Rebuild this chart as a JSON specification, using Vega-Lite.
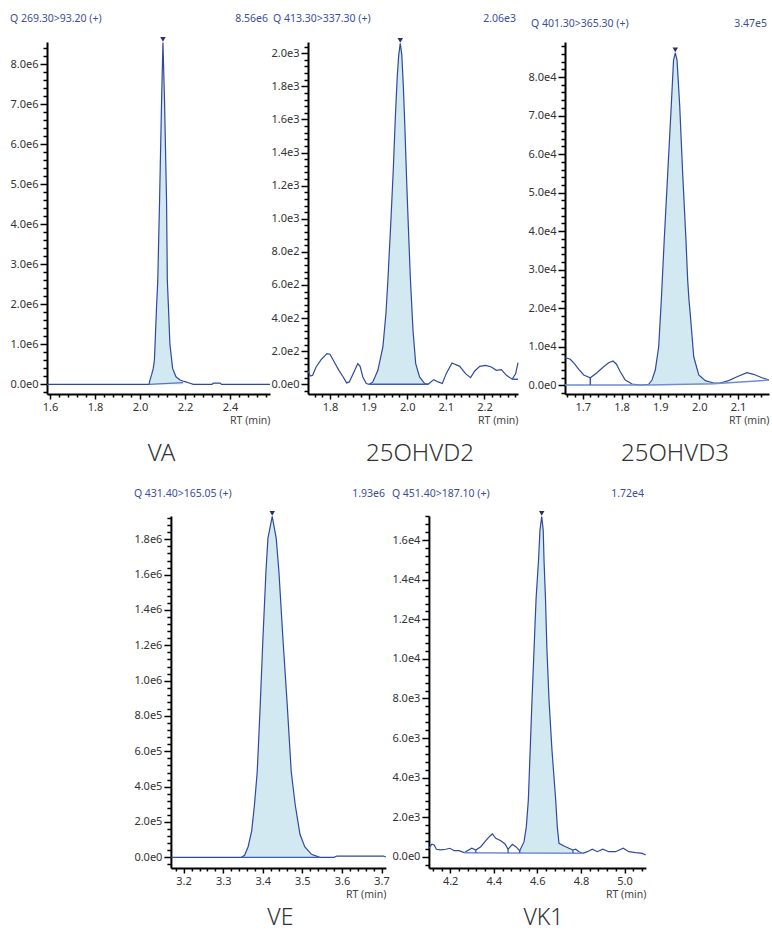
{
  "$schema": "https://vega.github.io/schema/vega-lite/v6.json",
  "background": "white",
  "padding": {"left": 9, "top": 14, "right": 0, "bottom": 0},
  "config": {
    "view": {"stroke": null},
    "axis": {"domainColor": "#000", "domainWidth": 2, "tickColor": "#000", "tickWidth": 1.5, "labelFont": "Noto Sans", "labelFontSize": 11, "labelColor": "#333", "titleFont": "Noto Sans", "titleFontSize": 10.5, "titleFontWeight": "normal", "titleColor": "#444", "grid": false, "labelPadding": 2, "labelOverlap": false, "labelBound": false, "tickCount": 500},
    "axisX": {"titleAnchor": "end", "titlePadding": 3, "labelFlush": false},
    "text": {"font": "Noto Sans"},
    "title": {"font": "Noto Sans"}
  },
  "datasets": {
    "curve": [
      {"p":"VA","rt":1.5867,"i":0},{"p":"VA","rt":1.7,"i":0},{"p":"VA","rt":1.9,"i":0},{"p":"VA","rt":2.0,"i":0},{"p":"VA","rt":2.04,"i":0},{"p":"VA","rt":2.044,"i":100000},{"p":"VA","rt":2.052,"i":250000},{"p":"VA","rt":2.059,"i":400000},{"p":"VA","rt":2.064,"i":600000},{"p":"VA","rt":2.067,"i":1000000},{"p":"VA","rt":2.074,"i":2000000},{"p":"VA","rt":2.079,"i":2600000},{"p":"VA","rt":2.087,"i":4600000},{"p":"VA","rt":2.096,"i":7100000},{"p":"VA","rt":2.102,"i":8550000},{"p":"VA","rt":2.109,"i":7100000},{"p":"VA","rt":2.118,"i":4600000},{"p":"VA","rt":2.1215,"i":2600000},{"p":"VA","rt":2.126,"i":2000000},{"p":"VA","rt":2.133,"i":1000000},{"p":"VA","rt":2.145,"i":400000},{"p":"VA","rt":2.16,"i":190000},{"p":"VA","rt":2.178,"i":110000},{"p":"VA","rt":2.19,"i":85000},{"p":"VA","rt":2.2,"i":70000},{"p":"VA","rt":2.222,"i":30000},{"p":"VA","rt":2.237,"i":0},{"p":"VA","rt":2.32,"i":0},{"p":"VA","rt":2.326,"i":30000},{"p":"VA","rt":2.356,"i":30000},{"p":"VA","rt":2.363,"i":0},{"p":"VA","rt":2.5778,"i":0},
      {"p":"D2","rt":1.743,"i":80},{"p":"D2","rt":1.749,"i":50},{"p":"D2","rt":1.755,"i":54},{"p":"D2","rt":1.764,"i":104},{"p":"D2","rt":1.777,"i":149},{"p":"D2","rt":1.792,"i":185},{"p":"D2","rt":1.8,"i":181},{"p":"D2","rt":1.811,"i":134},{"p":"D2","rt":1.823,"i":84},{"p":"D2","rt":1.833,"i":48},{"p":"D2","rt":1.843,"i":8},{"p":"D2","rt":1.85,"i":14},{"p":"D2","rt":1.862,"i":74},{"p":"D2","rt":1.872,"i":125},{"p":"D2","rt":1.878,"i":108},{"p":"D2","rt":1.885,"i":44},{"p":"D2","rt":1.894,"i":4},{"p":"D2","rt":1.902,"i":0},{"p":"D2","rt":1.911,"i":14},{"p":"D2","rt":1.924,"i":84},{"p":"D2","rt":1.937,"i":225},{"p":"D2","rt":1.945,"i":430},{"p":"D2","rt":1.95,"i":630},{"p":"D2","rt":1.958,"i":1000},{"p":"D2","rt":1.964,"i":1300},{"p":"D2","rt":1.969,"i":1600},{"p":"D2","rt":1.974,"i":1850},{"p":"D2","rt":1.978,"i":1990},{"p":"D2","rt":1.982,"i":2060},{"p":"D2","rt":1.986,"i":1990},{"p":"D2","rt":1.99,"i":1800},{"p":"D2","rt":1.994,"i":1550},{"p":"D2","rt":1.999,"i":1200},{"p":"D2","rt":2.003,"i":950},{"p":"D2","rt":2.008,"i":650},{"p":"D2","rt":2.015,"i":325},{"p":"D2","rt":2.022,"i":125},{"p":"D2","rt":2.032,"i":44},{"p":"D2","rt":2.045,"i":4},{"p":"D2","rt":2.054,"i":0},{"p":"D2","rt":2.069,"i":28},{"p":"D2","rt":2.08,"i":14},{"p":"D2","rt":2.091,"i":4},{"p":"D2","rt":2.101,"i":64},{"p":"D2","rt":2.116,"i":128},{"p":"D2","rt":2.136,"i":108},{"p":"D2","rt":2.151,"i":64},{"p":"D2","rt":2.164,"i":40},{"p":"D2","rt":2.175,"i":80},{"p":"D2","rt":2.188,"i":108},{"p":"D2","rt":2.203,"i":114},{"p":"D2","rt":2.218,"i":104},{"p":"D2","rt":2.231,"i":84},{"p":"D2","rt":2.244,"i":88},{"p":"D2","rt":2.257,"i":54},{"p":"D2","rt":2.272,"i":30},{"p":"D2","rt":2.281,"i":64},{"p":"D2","rt":2.287,"i":130},
      {"p":"D3","rt":1.6544,"i":7200},{"p":"D3","rt":1.668,"i":6750},{"p":"D3","rt":1.678,"i":5700},{"p":"D3","rt":1.69,"i":4150},{"p":"D3","rt":1.7026,"i":2670},{"p":"D3","rt":1.7196,"i":1970},{"p":"D3","rt":1.7368,"i":3270},{"p":"D3","rt":1.7523,"i":4670},{"p":"D3","rt":1.767,"i":5860},{"p":"D3","rt":1.778,"i":6300},{"p":"D3","rt":1.7866,"i":5530},{"p":"D3","rt":1.7968,"i":3530},{"p":"D3","rt":1.8097,"i":1370},{"p":"D3","rt":1.827,"i":340},{"p":"D3","rt":1.848,"i":80},{"p":"D3","rt":1.87,"i":260},{"p":"D3","rt":1.8785,"i":1370},{"p":"D3","rt":1.887,"i":3970},{"p":"D3","rt":1.8957,"i":10000},{"p":"D3","rt":1.9025,"i":22100},{"p":"D3","rt":1.91,"i":37700},{"p":"D3","rt":1.919,"i":55000},{"p":"D3","rt":1.928,"i":72300},{"p":"D3","rt":1.934,"i":84400},{"p":"D3","rt":1.9385,"i":86300},{"p":"D3","rt":1.943,"i":84400},{"p":"D3","rt":1.95,"i":72300},{"p":"D3","rt":1.9575,"i":55000},{"p":"D3","rt":1.966,"i":37700},{"p":"D3","rt":1.9704,"i":27300},{"p":"D3","rt":1.9738,"i":22100},{"p":"D3","rt":1.977,"i":18600},{"p":"D3","rt":1.986,"i":7400},{"p":"D3","rt":1.999,"i":2670},{"p":"D3","rt":2.016,"i":1200},{"p":"D3","rt":2.037,"i":600},{"p":"D3","rt":2.054,"i":600},{"p":"D3","rt":2.076,"i":1200},{"p":"D3","rt":2.0975,"i":2200},{"p":"D3","rt":2.123,"i":3300},{"p":"D3","rt":2.14,"i":2850},{"p":"D3","rt":2.162,"i":1970},{"p":"D3","rt":2.1765,"i":1500},{"p":"D3","rt":2.1799,"i":1450},
      {"p":"VE","rt":3.168,"i":0},{"p":"VE","rt":3.25,"i":0},{"p":"VE","rt":3.346,"i":0},{"p":"VE","rt":3.354,"i":11000},{"p":"VE","rt":3.363,"i":60000},{"p":"VE","rt":3.372,"i":150000},{"p":"VE","rt":3.379,"i":296000},{"p":"VE","rt":3.386,"i":484000},{"p":"VE","rt":3.3936,"i":862000},{"p":"VE","rt":3.4004,"i":1239000},{"p":"VE","rt":3.408,"i":1616000},{"p":"VE","rt":3.413,"i":1805000},{"p":"VE","rt":3.4239,"i":1930000},{"p":"VE","rt":3.434,"i":1805000},{"p":"VE","rt":3.4408,"i":1616000},{"p":"VE","rt":3.4509,"i":1239000},{"p":"VE","rt":3.4618,"i":862000},{"p":"VE","rt":3.4719,"i":484000},{"p":"VE","rt":3.482,"i":296000},{"p":"VE","rt":3.494,"i":130000},{"p":"VE","rt":3.506,"i":60000},{"p":"VE","rt":3.523,"i":17000},{"p":"VE","rt":3.544,"i":0},{"p":"VE","rt":3.58,"i":0},{"p":"VE","rt":3.587,"i":7000},{"p":"VE","rt":3.705,"i":7000},{"p":"VE","rt":3.711,"i":2000},
      {"p":"K1","rt":4.1026,"i":425},{"p":"K1","rt":4.116,"i":628},{"p":"K1","rt":4.1267,"i":592},{"p":"K1","rt":4.137,"i":375},{"p":"K1","rt":4.157,"i":340},{"p":"K1","rt":4.18,"i":375},{"p":"K1","rt":4.1986,"i":425},{"p":"K1","rt":4.2183,"i":304},{"p":"K1","rt":4.241,"i":304},{"p":"K1","rt":4.264,"i":203},{"p":"K1","rt":4.279,"i":304},{"p":"K1","rt":4.2994,"i":425},{"p":"K1","rt":4.3177,"i":340},{"p":"K1","rt":4.3406,"i":506},{"p":"K1","rt":4.3635,"i":810},{"p":"K1","rt":4.383,"i":1048},{"p":"K1","rt":4.3938,"i":1150},{"p":"K1","rt":4.4094,"i":932},{"p":"K1","rt":4.4322,"i":810},{"p":"K1","rt":4.452,"i":643},{"p":"K1","rt":4.4657,"i":375},{"p":"K1","rt":4.4854,"i":628},{"p":"K1","rt":4.501,"i":506},{"p":"K1","rt":4.5193,"i":304},{"p":"K1","rt":4.539,"i":760},{"p":"K1","rt":4.5495,"i":1519},{"p":"K1","rt":4.5587,"i":2870},{"p":"K1","rt":4.5756,"i":7930},{"p":"K1","rt":4.5848,"i":10470},{"p":"K1","rt":4.594,"i":13000},{"p":"K1","rt":4.6054,"i":15000},{"p":"K1","rt":4.612,"i":16500},{"p":"K1","rt":4.62,"i":17200},{"p":"K1","rt":4.627,"i":16500},{"p":"K1","rt":4.6306,"i":15000},{"p":"K1","rt":4.6375,"i":13000},{"p":"K1","rt":4.644,"i":10470},{"p":"K1","rt":4.6535,"i":7930},{"p":"K1","rt":4.667,"i":5400},{"p":"K1","rt":4.6842,"i":2870},{"p":"K1","rt":4.6915,"i":1519},{"p":"K1","rt":4.6993,"i":676},{"p":"K1","rt":4.7222,"i":540},{"p":"K1","rt":4.745,"i":425},{"p":"K1","rt":4.7634,"i":340},{"p":"K1","rt":4.7758,"i":375},{"p":"K1","rt":4.791,"i":253},{"p":"K1","rt":4.8093,"i":169},{"p":"K1","rt":4.829,"i":253},{"p":"K1","rt":4.852,"i":375},{"p":"K1","rt":4.8748,"i":253},{"p":"K1","rt":4.9,"i":375},{"p":"K1","rt":4.928,"i":253},{"p":"K1","rt":4.959,"i":253},{"p":"K1","rt":4.9939,"i":425},{"p":"K1","rt":5.02,"i":253},{"p":"K1","rt":5.0507,"i":203},{"p":"K1","rt":5.0813,"i":169},{"p":"K1","rt":5.097,"i":84}
    ],
    "base": [
      {"p":"VA","s":1,"rt":2.04,"i":0},{"p":"VA","s":1,"rt":2.192,"i":45000},
      {"p":"D2","s":1,"rt":1.902,"i":0},{"p":"D2","s":1,"rt":2.054,"i":0},{"p":"D2","s":2,"rt":2.272,"i":30},{"p":"D2","s":2,"rt":2.287,"i":30},
      {"p":"D3","s":1,"rt":1.6544,"i":100},{"p":"D3","s":1,"rt":1.87,"i":100},{"p":"D3","s":1,"rt":2.037,"i":420},{"p":"D3","s":1,"rt":2.1799,"i":1350},
      {"p":"VE","s":1,"rt":3.346,"i":0},{"p":"VE","s":1,"rt":3.544,"i":0},
      {"p":"K1","s":1,"rt":4.264,"i":203},{"p":"K1","s":1,"rt":4.8093,"i":169}
    ],
    "drop": [
      {"p":"D3","rt":1.7196,"i":1970,"b":100},
      {"p":"K1","rt":4.3177,"i":340,"b":199},{"p":"K1","rt":4.4657,"i":375,"b":189},{"p":"K1","rt":4.5193,"i":304,"b":186},{"p":"K1","rt":4.7634,"i":340,"b":175}
    ],
    "apex": [
      {"p":"VA","rt":2.102,"i":8550000},{"p":"D2","rt":1.982,"i":2060},{"p":"D3","rt":1.9385,"i":86300},{"p":"VE","rt":3.4239,"i":1930000},{"p":"K1","rt":4.62,"i":17200}
    ],
    "meta": [
      {"p":"VA","q":"Q 269.30>93.20 (+)","m":"8.56e6"},
      {"p":"D2","q":"Q 413.30>337.30 (+)","m":"2.06e3"},
      {"p":"D3","q":"Q 401.30>365.30 (+)","m":"3.47e5"},
      {"p":"VE","q":"Q 431.40>165.05 (+)","m":"1.93e6"},
      {"p":"K1","q":"Q 451.40>187.10 (+)","m":"1.72e4"}
    ]
  },
  "center": true,
  "spacing": 23,
  "vconcat": [
    {
      "spacing": -3,
      "hconcat": [
        {
          "width": 223, "height": 352,
          "title": {"text": "VA", "orient": "bottom", "anchor": "middle", "frame": "group", "fontSize": 24, "fontWeight": 300, "color": "#333", "offset": 16, "dx": 3},
          "layer": [
            {"data": {"name": "curve"}, "transform": [{"filter": "datum.p === 'VA' && datum.rt >= 2.04 && datum.rt <= 2.192"}],
             "mark": {"type": "area", "color": "#d3e9f1"},
             "encoding": {
               "x": {"field": "rt", "type": "quantitative", "scale": {"domain": [1.5867, 2.5778], "nice": false, "zero": false},
                     "axis": {"title": "RT (min)", "values": [1.6,1.64,1.68,1.72,1.76,1.8,1.84,1.88,1.92,1.96,2.0,2.04,2.08,2.12,2.16,2.2,2.24,2.28,2.32,2.36,2.4,2.44,2.48,2.52,2.56],
                              "labelExpr": "abs(datum.value*5 - round(datum.value*5)) < 1e-6 ? format(datum.value, '.1f') : ''",
                              "tickSize": {"condition": {"test": "abs(datum.value*5 - round(datum.value*5)) < 1e-6", "value": 5}, "value": 3}}},
               "y": {"field": "i", "type": "quantitative", "scale": {"domain": [-240000, 8560000], "nice": false, "zero": false},
                     "axis": {"title": null, "minExtent": 37, "maxExtent": 37,
                              "values": [-200000,0,200000,400000,600000,800000,1000000,1200000,1400000,1600000,1800000,2000000,2200000,2400000,2600000,2800000,3000000,3200000,3400000,3600000,3800000,4000000,4200000,4400000,4600000,4800000,5000000,5200000,5400000,5600000,5800000,6000000,6200000,6400000,6600000,6800000,7000000,7200000,7400000,7600000,7800000,8000000,8200000,8400000],
                              "labelExpr": "datum.value % 1000000 === 0 ? replace(format(datum.value, '.1e'), '+', '') : ''",
                              "tickSize": {"condition": {"test": "datum.value % 1000000 === 0", "value": 7}, "value": 4}}},
               "y2": {"datum": 0}
             }},
            {"data": {"name": "curve"}, "transform": [{"filter": "datum.p === 'VA'"}], "mark": {"type": "line", "color": "#2f4a9c", "strokeWidth": 1.2},
             "encoding": {"x": {"field": "rt", "type": "quantitative"}, "y": {"field": "i", "type": "quantitative"}}},
            {"data": {"name": "base"}, "transform": [{"filter": "datum.p === 'VA'"}], "mark": {"type": "line", "color": "#5675c4", "strokeWidth": 1.3},
             "encoding": {"x": {"field": "rt", "type": "quantitative"}, "y": {"field": "i", "type": "quantitative"}, "detail": {"field": "s"}}},
            {"data": {"name": "apex"}, "transform": [{"filter": "datum.p === 'VA'"}], "mark": {"type": "point", "shape": "triangle-down", "filled": true, "color": "#2b2f66", "size": 30, "opacity": 1, "yOffset": -3},
             "encoding": {"x": {"field": "rt", "type": "quantitative"}, "y": {"field": "i", "type": "quantitative"}}},
            {"data": {"name": "meta"}, "transform": [{"filter": "datum.p === 'VA'"}], "mark": {"type": "text", "align": "left", "baseline": "middle", "dx": -37, "dy": -23, "fontSize": 10.5, "color": "#3b4e9a"},
             "encoding": {"x": {"datum": 1.5867, "type": "quantitative"}, "y": {"datum": 8560000, "type": "quantitative"}, "text": {"field": "q"}}},
            {"data": {"name": "meta"}, "transform": [{"filter": "datum.p === 'VA'"}], "mark": {"type": "text", "align": "right", "baseline": "middle", "dx": -2, "dy": -23, "fontSize": 10.5, "color": "#3b4e9a"},
             "encoding": {"x": {"datum": 2.5778, "type": "quantitative"}, "y": {"datum": 8560000, "type": "quantitative"}, "text": {"field": "m"}}}
          ]
        },
        {
          "width": 210, "height": 352,
          "title": {"text": "25OHVD2", "orient": "bottom", "anchor": "middle", "frame": "group", "fontSize": 24, "fontWeight": 300, "color": "#333", "offset": 16, "dx": 7},
          "layer": [
            {"data": {"name": "curve"}, "transform": [{"filter": "datum.p === 'D2' && datum.rt >= 1.902 && datum.rt <= 2.054"}],
             "mark": {"type": "area", "color": "#d3e9f1"},
             "encoding": {
               "x": {"field": "rt", "type": "quantitative", "scale": {"domain": [1.743, 2.287], "nice": false, "zero": false},
                     "axis": {"title": "RT (min)", "values": [1.76,1.78,1.8,1.82,1.84,1.86,1.88,1.9,1.92,1.94,1.96,1.98,2.0,2.02,2.04,2.06,2.08,2.1,2.12,2.14,2.16,2.18,2.2,2.22,2.24,2.26,2.28],
                              "labelExpr": "abs(datum.value*10 - round(datum.value*10)) < 1e-6 ? format(datum.value, '.1f') : ''",
                              "tickSize": {"condition": {"test": "abs(datum.value*10 - round(datum.value*10)) < 1e-6", "value": 5}, "value": 3}}},
               "y": {"field": "i", "type": "quantitative", "scale": {"domain": [-59, 2068], "nice": false, "zero": false},
                     "axis": {"title": null, "minExtent": 32, "maxExtent": 32,
                              "values": [-40,0,40,80,120,160,200,240,280,320,360,400,440,480,520,560,600,640,680,720,760,800,840,880,920,960,1000,1040,1080,1120,1160,1200,1240,1280,1320,1360,1400,1440,1480,1520,1560,1600,1640,1680,1720,1760,1800,1840,1880,1920,1960,2000,2040],
                              "labelExpr": "datum.value % 200 === 0 ? replace(format(datum.value, '.1e'), '+', '') : ''",
                              "tickSize": {"condition": {"test": "datum.value % 200 === 0", "value": 7}, "value": 4}}},
               "y2": {"datum": 0}
             }},
            {"data": {"name": "curve"}, "transform": [{"filter": "datum.p === 'D2'"}], "mark": {"type": "line", "color": "#2f4a9c", "strokeWidth": 1.2},
             "encoding": {"x": {"field": "rt", "type": "quantitative"}, "y": {"field": "i", "type": "quantitative"}}},
            {"data": {"name": "base"}, "transform": [{"filter": "datum.p === 'D2'"}], "mark": {"type": "line", "color": "#3a5db8", "strokeWidth": 1.5},
             "encoding": {"x": {"field": "rt", "type": "quantitative"}, "y": {"field": "i", "type": "quantitative"}, "detail": {"field": "s"}}},
            {"data": {"name": "apex"}, "transform": [{"filter": "datum.p === 'D2'"}], "mark": {"type": "point", "shape": "triangle-down", "filled": true, "color": "#2b2f66", "size": 30, "opacity": 1, "yOffset": -3},
             "encoding": {"x": {"field": "rt", "type": "quantitative"}, "y": {"field": "i", "type": "quantitative"}}},
            {"data": {"name": "meta"}, "transform": [{"filter": "datum.p === 'D2'"}], "mark": {"type": "text", "align": "left", "baseline": "middle", "dx": -35, "dy": -23, "fontSize": 10.5, "color": "#3b4e9a"},
             "encoding": {"x": {"datum": 1.743, "type": "quantitative"}, "y": {"datum": 2068, "type": "quantitative"}, "text": {"field": "q"}}},
            {"data": {"name": "meta"}, "transform": [{"filter": "datum.p === 'D2'"}], "mark": {"type": "text", "align": "right", "baseline": "middle", "dx": -2, "dy": -23, "fontSize": 10.5, "color": "#3b4e9a"},
             "encoding": {"x": {"datum": 2.287, "type": "quantitative"}, "y": {"datum": 2068, "type": "quantitative"}, "text": {"field": "m"}}}
          ]
        },
        {
          "width": 204, "height": 352,
          "title": {"text": "25OHVD3", "orient": "bottom", "anchor": "middle", "frame": "group", "fontSize": 24, "fontWeight": 300, "color": "#333", "offset": 16, "dx": 8},
          "layer": [
            {"data": {"name": "curve"}, "transform": [{"filter": "datum.p === 'D3' && datum.rt >= 1.87 && datum.rt <= 2.037"}],
             "mark": {"type": "area", "color": "#d3e9f1"},
             "encoding": {
               "x": {"field": "rt", "type": "quantitative", "scale": {"domain": [1.6544, 2.1799], "nice": false, "zero": false},
                     "axis": {"title": "RT (min)", "values": [1.66,1.68,1.7,1.72,1.74,1.76,1.78,1.8,1.82,1.84,1.86,1.88,1.9,1.92,1.94,1.96,1.98,2.0,2.02,2.04,2.06,2.08,2.1,2.12,2.14,2.16],
                              "labelExpr": "abs(datum.value*10 - round(datum.value*10)) < 1e-6 ? format(datum.value, '.1f') : ''",
                              "tickSize": {"condition": {"test": "abs(datum.value*10 - round(datum.value*10)) < 1e-6", "value": 5}, "value": 3}}},
               "y": {"field": "i", "type": "quantitative", "scale": {"domain": [-2260, 89100], "nice": false, "zero": false},
                     "axis": {"title": null, "minExtent": 47, "maxExtent": 47,
                              "values": [-2000,0,2000,4000,6000,8000,10000,12000,14000,16000,18000,20000,22000,24000,26000,28000,30000,32000,34000,36000,38000,40000,42000,44000,46000,48000,50000,52000,54000,56000,58000,60000,62000,64000,66000,68000,70000,72000,74000,76000,78000,80000,82000,84000,86000,88000],
                              "labelExpr": "datum.value % 10000 === 0 ? replace(format(datum.value, '.1e'), '+', '') : ''",
                              "tickSize": {"condition": {"test": "datum.value % 10000 === 0", "value": 7}, "value": 4}}},
               "y2": {"datum": 200}
             }},
            {"data": {"name": "curve"}, "transform": [{"filter": "datum.p === 'D3'"}], "mark": {"type": "line", "color": "#2f4a9c", "strokeWidth": 1.2},
             "encoding": {"x": {"field": "rt", "type": "quantitative"}, "y": {"field": "i", "type": "quantitative"}}},
            {"data": {"name": "base"}, "transform": [{"filter": "datum.p === 'D3'"}], "mark": {"type": "line", "color": "#6f8ed0", "strokeWidth": 1.5},
             "encoding": {"x": {"field": "rt", "type": "quantitative"}, "y": {"field": "i", "type": "quantitative"}, "detail": {"field": "s"}}},
            {"data": {"name": "drop"}, "transform": [{"filter": "datum.p === 'D3'"}], "mark": {"type": "rule", "color": "#3d5aa8", "strokeWidth": 1.5},
             "encoding": {"x": {"field": "rt", "type": "quantitative"}, "y": {"field": "i", "type": "quantitative"}, "y2": {"field": "b"}}},
            {"data": {"name": "apex"}, "transform": [{"filter": "datum.p === 'D3'"}], "mark": {"type": "point", "shape": "triangle-down", "filled": true, "color": "#2b2f66", "size": 30, "opacity": 1, "yOffset": -3},
             "encoding": {"x": {"field": "rt", "type": "quantitative"}, "y": {"field": "i", "type": "quantitative"}}},
            {"data": {"name": "meta"}, "transform": [{"filter": "datum.p === 'D3'"}], "mark": {"type": "text", "align": "left", "baseline": "middle", "dx": -34, "dy": -18, "fontSize": 10.5, "color": "#3b4e9a"},
             "encoding": {"x": {"datum": 1.6544, "type": "quantitative"}, "y": {"datum": 89100, "type": "quantitative"}, "text": {"field": "q"}}},
            {"data": {"name": "meta"}, "transform": [{"filter": "datum.p === 'D3'"}], "mark": {"type": "text", "align": "right", "baseline": "middle", "dx": -2, "dy": -18, "fontSize": 10.5, "color": "#3b4e9a"},
             "encoding": {"x": {"datum": 2.1799, "type": "quantitative"}, "y": {"datum": 89100, "type": "quantitative"}, "text": {"field": "m"}}}
          ]
        }
      ]
    },
    {
      "spacing": -2,
      "hconcat": [
        {
          "width": 215, "height": 352,
          "title": {"text": "VE", "orient": "bottom", "anchor": "middle", "frame": "group", "fontSize": 23, "fontWeight": 300, "color": "#333", "offset": 7, "dx": 2},
          "layer": [
            {"data": {"name": "curve"}, "transform": [{"filter": "datum.p === 'VE' && datum.rt >= 3.346 && datum.rt <= 3.544"}],
             "mark": {"type": "area", "color": "#d3e9f1"},
             "encoding": {
               "x": {"field": "rt", "type": "quantitative", "scale": {"domain": [3.168, 3.711], "nice": false, "zero": false},
                     "axis": {"title": "RT (min)", "values": [3.18,3.2,3.22,3.24,3.26,3.28,3.3,3.32,3.34,3.36,3.38,3.4,3.42,3.44,3.46,3.48,3.5,3.52,3.54,3.56,3.58,3.6,3.62,3.64,3.66,3.68,3.7],
                              "labelExpr": "abs(datum.value*10 - round(datum.value*10)) < 1e-6 ? format(datum.value, '.1f') : ''",
                              "tickSize": {"condition": {"test": "abs(datum.value*10 - round(datum.value*10)) < 1e-6", "value": 5}, "value": 3}}},
               "y": {"field": "i", "type": "quantitative", "scale": {"domain": [-60600, 1932000], "nice": false, "zero": false},
                     "axis": {"title": null, "minExtent": 37, "maxExtent": 37,
                              "values": [-40000,0,40000,80000,120000,160000,200000,240000,280000,320000,360000,400000,440000,480000,520000,560000,600000,640000,680000,720000,760000,800000,840000,880000,920000,960000,1000000,1040000,1080000,1120000,1160000,1200000,1240000,1280000,1320000,1360000,1400000,1440000,1480000,1520000,1560000,1600000,1640000,1680000,1720000,1760000,1800000,1840000,1880000,1920000],
                              "labelExpr": "datum.value % 200000 === 0 ? replace(format(datum.value, '.1e'), '+', '') : ''",
                              "tickSize": {"condition": {"test": "datum.value % 200000 === 0", "value": 7}, "value": 4}}},
               "y2": {"datum": 0}
             }},
            {"data": {"name": "curve"}, "transform": [{"filter": "datum.p === 'VE'"}], "mark": {"type": "line", "color": "#2f4a9c", "strokeWidth": 1.2},
             "encoding": {"x": {"field": "rt", "type": "quantitative"}, "y": {"field": "i", "type": "quantitative"}}},
            {"data": {"name": "base"}, "transform": [{"filter": "datum.p === 'VE'"}], "mark": {"type": "line", "color": "#3a5db8", "strokeWidth": 1.3},
             "encoding": {"x": {"field": "rt", "type": "quantitative"}, "y": {"field": "i", "type": "quantitative"}, "detail": {"field": "s"}}},
            {"data": {"name": "apex"}, "transform": [{"filter": "datum.p === 'VE'"}], "mark": {"type": "point", "shape": "triangle-down", "filled": true, "color": "#2b2f66", "size": 30, "opacity": 1, "yOffset": -3},
             "encoding": {"x": {"field": "rt", "type": "quantitative"}, "y": {"field": "i", "type": "quantitative"}}},
            {"data": {"name": "meta"}, "transform": [{"filter": "datum.p === 'VE'"}], "mark": {"type": "text", "align": "left", "baseline": "middle", "dx": -37, "dy": -22, "fontSize": 10.5, "color": "#3b4e9a"},
             "encoding": {"x": {"datum": 3.168, "type": "quantitative"}, "y": {"datum": 1932000, "type": "quantitative"}, "text": {"field": "q"}}},
            {"data": {"name": "meta"}, "transform": [{"filter": "datum.p === 'VE'"}], "mark": {"type": "text", "align": "right", "baseline": "middle", "dx": -1, "dy": -22, "fontSize": 10.5, "color": "#3b4e9a"},
             "encoding": {"x": {"datum": 3.711, "type": "quantitative"}, "y": {"datum": 1932000, "type": "quantitative"}, "text": {"field": "m"}}}
          ]
        },
        {
          "width": 217, "height": 352,
          "title": {"text": "VK1", "orient": "bottom", "anchor": "middle", "frame": "group", "fontSize": 23, "fontWeight": 300, "color": "#333", "offset": 7, "dx": 6},
          "layer": [
            {"data": {"name": "curve"}, "transform": [{"filter": "datum.p === 'K1' && datum.rt >= 4.5193 && datum.rt <= 4.7634"}],
             "mark": {"type": "area", "color": "#d3e9f1"},
             "encoding": {
               "x": {"field": "rt", "type": "quantitative", "scale": {"domain": [4.1026, 5.098], "nice": false, "zero": false},
                     "axis": {"title": "RT (min)", "values": [4.12,4.16,4.2,4.24,4.28,4.32,4.36,4.4,4.44,4.48,4.52,4.56,4.6,4.64,4.68,4.72,4.76,4.8,4.84,4.88,4.92,4.96,5.0,5.04,5.08],
                              "labelExpr": "abs(datum.value*5 - round(datum.value*5)) < 1e-6 ? format(datum.value, '.1f') : ''",
                              "tickSize": {"condition": {"test": "abs(datum.value*5 - round(datum.value*5)) < 1e-6", "value": 5}, "value": 3}}},
               "y": {"field": "i", "type": "quantitative", "scale": {"domain": [-572, 17225], "nice": false, "zero": false},
                     "axis": {"title": null, "minExtent": 41, "maxExtent": 41,
                              "values": [-400,0,400,800,1200,1600,2000,2400,2800,3200,3600,4000,4400,4800,5200,5600,6000,6400,6800,7200,7600,8000,8400,8800,9200,9600,10000,10400,10800,11200,11600,12000,12400,12800,13200,13600,14000,14400,14800,15200,15600,16000,16400,16800,17200],
                              "labelExpr": "datum.value % 2000 === 0 ? replace(format(datum.value, '.1e'), '+', '') : ''",
                              "tickSize": {"condition": {"test": "datum.value % 2000 === 0", "value": 7}, "value": 4}}},
               "y2": {"datum": 195}
             }},
            {"data": {"name": "curve"}, "transform": [{"filter": "datum.p === 'K1'"}], "mark": {"type": "line", "color": "#2f4a9c", "strokeWidth": 1.2},
             "encoding": {"x": {"field": "rt", "type": "quantitative"}, "y": {"field": "i", "type": "quantitative"}}},
            {"data": {"name": "base"}, "transform": [{"filter": "datum.p === 'K1'"}], "mark": {"type": "line", "color": "#6f8ed0", "strokeWidth": 1.5},
             "encoding": {"x": {"field": "rt", "type": "quantitative"}, "y": {"field": "i", "type": "quantitative"}, "detail": {"field": "s"}}},
            {"data": {"name": "drop"}, "transform": [{"filter": "datum.p === 'K1'"}], "mark": {"type": "rule", "color": "#3d5aa8", "strokeWidth": 1.3},
             "encoding": {"x": {"field": "rt", "type": "quantitative"}, "y": {"field": "i", "type": "quantitative"}, "y2": {"field": "b"}}},
            {"data": {"name": "apex"}, "transform": [{"filter": "datum.p === 'K1'"}], "mark": {"type": "point", "shape": "triangle-down", "filled": true, "color": "#2b2f66", "size": 30, "opacity": 1, "yOffset": -3},
             "encoding": {"x": {"field": "rt", "type": "quantitative"}, "y": {"field": "i", "type": "quantitative"}}},
            {"data": {"name": "meta"}, "transform": [{"filter": "datum.p === 'K1'"}], "mark": {"type": "text", "align": "left", "baseline": "middle", "dx": -37, "dy": -22, "fontSize": 10.5, "color": "#3b4e9a"},
             "encoding": {"x": {"datum": 4.1026, "type": "quantitative"}, "y": {"datum": 17225, "type": "quantitative"}, "text": {"field": "q"}}},
            {"data": {"name": "meta"}, "transform": [{"filter": "datum.p === 'K1'"}], "mark": {"type": "text", "align": "right", "baseline": "middle", "dx": -2, "dy": -22, "fontSize": 10.5, "color": "#3b4e9a"},
             "encoding": {"x": {"datum": 5.098, "type": "quantitative"}, "y": {"datum": 17225, "type": "quantitative"}, "text": {"field": "m"}}}
          ]
        }
      ]
    }
  ]
}
